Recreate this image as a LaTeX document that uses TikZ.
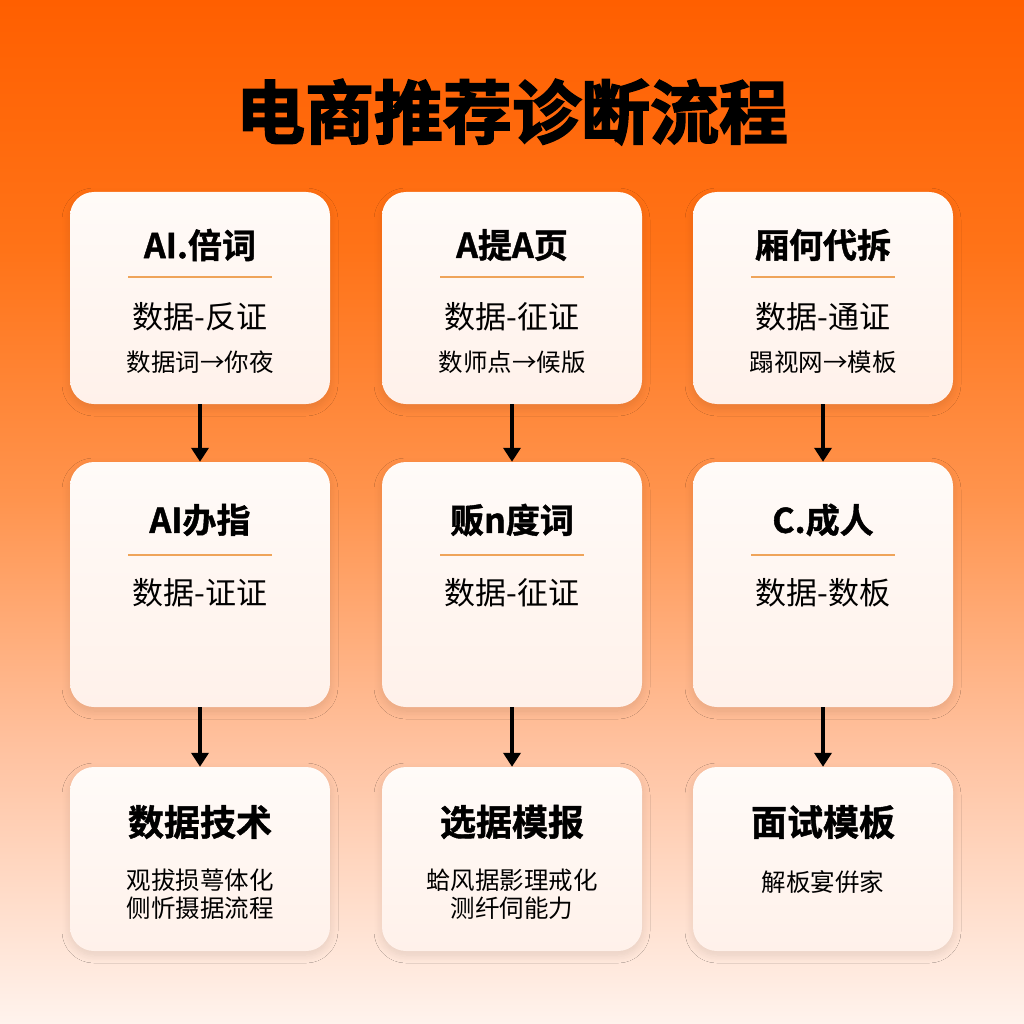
\documentclass[tikz,border=0pt]{standalone}
\usepackage{fontspec}
\setmainfont{Noto Sans CJK SC}
\newfontfamily\heavyfont{Noto Sans CJK SC Bold}[FakeBold=2.5]
\newfontfamily\semiheavy{Noto Sans CJK SC Bold}[FakeBold=1.2]
\usetikzlibrary{arrows.meta,shadows.blur}
\definecolor{bgA}{HTML}{FF5F00}
\definecolor{bgB}{HTML}{FF7318}
\definecolor{bgC}{HTML}{FF944E}
\definecolor{bgD}{HTML}{FFC2A0}
\definecolor{bgE}{HTML}{FFF3ED}
\definecolor{cardtop}{HTML}{FFFBF8}
\definecolor{cardbot}{HTML}{FFF1EA}
\definecolor{sepline}{HTML}{EFA45A}
\pgfdeclareverticalshading{bgshade}{100bp}{color(0bp)=(bgE); color(25bp)=(bgE); color(38.4bp)=(bgD); color(50.6bp)=(bgC); color(62.8bp)=(bgB); color(75bp)=(bgA); color(100bp)=(bgA)}
\tikzset{
  card/.style={rounded corners=24pt, minimum width=260pt, inner sep=0pt,
    top color=cardtop, bottom color=cardbot, draw=none,
    blur shadow={shadow xshift=0pt, shadow yshift=-4pt, shadow blur radius=8pt, shadow blur steps=10, shadow opacity=10}},
  ctitle/.style={font=\semiheavy\fontsize{34}{38}\selectfont, text=black, inner sep=0pt},
  btitle/.style={font=\semiheavy\fontsize{36}{40}\selectfont, text=black, inner sep=0pt},
  csub/.style={font=\fontsize{31}{34}\selectfont, text=black, inner sep=0pt},
  csmall/.style={font=\fontsize{24.5}{28}\selectfont, text=black, inner sep=0pt},
  sep/.style={draw=sepline, line width=1.5pt},
  flow/.style={line width=4pt, draw=black, -{Triangle[width=17pt,length=14pt]}}
}
\begin{document}
\begin{tikzpicture}[x=1pt,y=-1pt]
\useasboundingbox (0,0) rectangle (1024,1024);
\shade[shading=bgshade] (0,0) rectangle (1024,1024);
\node[font=\heavyfont\fontsize{69}{74}\selectfont, inner sep=0pt] (title) at (512,112) {电商推荐诊断流程};
% row 1
\node[card, minimum height=212pt] (c1) at (200,298) {};
\node[card, minimum height=212pt] (c2) at (512,298) {};
\node[card, minimum height=212pt] (c3) at (823,298) {};
% row 2
\node[card, minimum height=245pt] (c4) at (200,584.5) {};
\node[card, minimum height=245pt] (c5) at (512,584.5) {};
\node[card, minimum height=245pt] (c6) at (823,584.5) {};
% row 3
\node[card, minimum height=184pt] (c7) at (200,859) {};
\node[card, minimum height=184pt] (c8) at (512,859) {};
\node[card, minimum height=184pt] (c9) at (823,859) {};
% arrows
\draw[flow] (c1.south) -- (c4.north);
\draw[flow] (c2.south) -- (c5.north);
\draw[flow] (c3.south) -- (c6.north);
\draw[flow] (c4.south) -- (c7.north);
\draw[flow] (c5.south) -- (c8.north);
\draw[flow] (c6.south) -- (c9.north);
% card 1
\node[ctitle] (t1) at (200,245) {AI.倍词};
\coordinate (l1a) at (128,277); \coordinate (l1b) at (272,277);
\draw[sep] (l1a) -- (l1b);
\node[csub] (s1) at (200,317) {数据-反证};
\node[csmall] (m1) at (200,362) {数据词→你夜};
% card 2
\node[ctitle] (t2) at (512,245) {A提A页};
\coordinate (l2a) at (440,277); \coordinate (l2b) at (584,277);
\draw[sep] (l2a) -- (l2b);
\node[csub] (s2) at (512,317) {数据-征证};
\node[csmall] (m2) at (512,362) {数师点→候版};
% card 3
\node[ctitle] (t3) at (823,245) {厢何代拆};
\coordinate (l3a) at (751,277); \coordinate (l3b) at (895,277);
\draw[sep] (l3a) -- (l3b);
\node[csub] (s3) at (823,317) {数据-通证};
\node[csmall] (m3) at (823,362) {蹋视网→模板};
% card 4
\node[ctitle] (t4) at (200,520) {AI办指};
\coordinate (l4a) at (128,555); \coordinate (l4b) at (272,555);
\draw[sep] (l4a) -- (l4b);
\node[csub] (s4) at (200,593) {数据-证证};
% card 5
\node[ctitle] (t5) at (512,520) {贩n度词};
\coordinate (l5a) at (440,555); \coordinate (l5b) at (584,555);
\draw[sep] (l5a) -- (l5b);
\node[csub] (s5) at (512,593) {数据-征证};
% card 6
\node[ctitle] (t6) at (823,520) {C.成人};
\coordinate (l6a) at (751,555); \coordinate (l6b) at (895,555);
\draw[sep] (l6a) -- (l6b);
\node[csub] (s6) at (823,593) {数据-数板};
% card 7
\node[btitle] (t7) at (200,822) {数据技术};
\node[csmall] (m7a) at (200,880) {观拔损萼体化};
\node[csmall] (m7b) at (200,908) {侧忻摄据流程};
% card 8
\node[btitle] (t8) at (512,822) {选据模报};
\node[csmall] (m8a) at (512,880) {蛤风据影理戒化};
\node[csmall] (m8b) at (512,908) {测纤伺能力};
% card 9
\node[btitle] (t9) at (823,822) {面试模板};
\node[csmall] (m9) at (823,882) {解板宴倂家};
\end{tikzpicture}
\end{document}
